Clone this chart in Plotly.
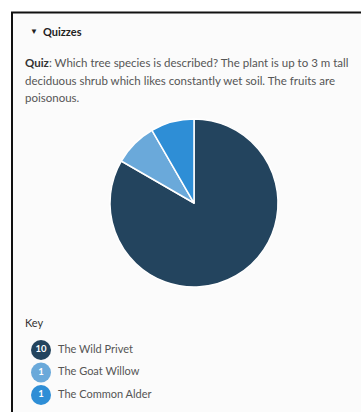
import plotly.graph_objects as go

species = ["The Wild Privet", "The Goat Willow", "The Common Alder"]
answers = [10, 1, 1]
colors = ["#23445e", "#6aa9da", "#2e8ed6"]

W, H = 361, 412
FONT = "Lato"

fig = go.Figure()

# pie, clockwise from 12 o'clock
fig.add_trace(go.Pie(
    labels=species, values=answers, sort=False, direction="clockwise", rotation=0,
    marker=dict(colors=colors, line=dict(color="white", width=1.5)),
    textinfo="none", hoverinfo="label+value", showlegend=False,
    domain=dict(x=[110 / W, 278 / W], y=[1 - 287 / H, 1 - 119 / H]),
))

# key: numbered circles + names
key_y = [350, 372.5, 395]
fig.add_trace(go.Scatter(
    x=[41] * len(answers), y=key_y, mode="markers+text",
    marker=dict(size=20, color=colors, line=dict(width=0)),
    text=[f"<b>{v}</b>" for v in answers], textposition="middle center",
    textfont=dict(family=FONT, size=9.5, color="white"),
    hoverinfo="skip", showlegend=False,
))
fig.add_trace(go.Scatter(
    x=[58] * len(species), y=key_y, mode="text",
    text=species, textposition="middle right",
    textfont=dict(family=FONT, size=11, color="#555555"),
    hoverinfo="skip", showlegend=False,
))

fig.update_xaxes(range=[0, W], visible=False, fixedrange=True)
fig.update_yaxes(range=[H, 0], visible=False, fixedrange=True)

# panel frame
fig.add_shape(type="rect", xref="paper", yref="paper", x0=12 / W, x1=1.2, y0=-0.2, y1=1 - 12.5 / H,
              line=dict(color="#111111", width=2), fillcolor="#fbfbfb", layer="below")

def txt(x, y, s, size=11.5, color="#555555"):
    fig.add_annotation(x=x, y=y, xref="x", yref="y", text=s, showarrow=False,
                       xanchor="left", yanchor="middle", align="left",
                       font=dict(family=FONT, size=size, color=color))

txt(28, 31, "▼", size=8, color="#222222")
txt(41, 31, "<b>Quizzes</b>", size=11, color="#222222")
txt(23, 62, "<b><span style='color:#333333'>Quiz</span></b>: Which tree species is described? The plant is up to 3 m tall")
txt(23, 80, "deciduous shrub which likes constantly wet soil. The fruits are")
txt(23, 97, "poisonous.")
txt(23, 322, "Key", size=11, color="#333333")

fig.update_layout(
    width=W, height=H, margin=dict(l=0, r=0, t=0, b=0),
    paper_bgcolor="white", plot_bgcolor="rgba(0,0,0,0)",
    font=dict(family=FONT),
)

fig.write_html("out.html", config=dict(displayModeBar=False),
               post_script="document.body.style.margin='0';")
